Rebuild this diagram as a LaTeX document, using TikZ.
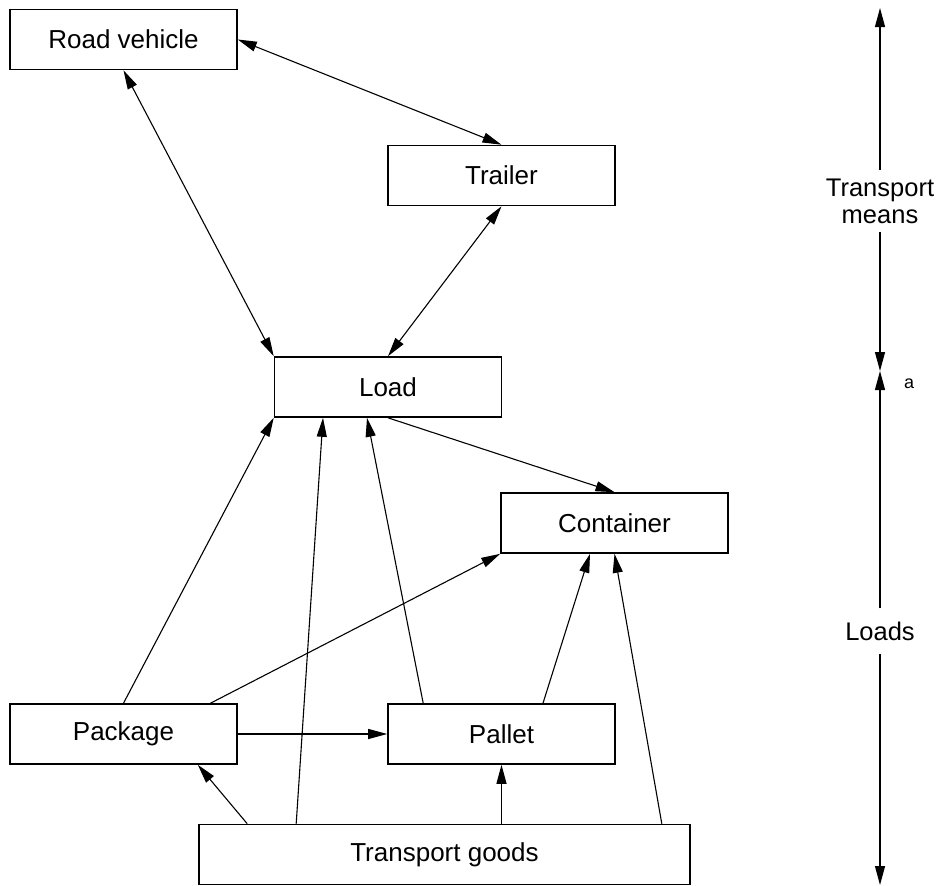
\documentclass[tikz,border=0pt]{standalone}
\usepackage{fontspec}
\setmainfont{Liberation Sans}
\usetikzlibrary{arrows.meta}
\begin{document}
\begin{tikzpicture}[x=1pt,y=-1pt,
  box/.style={draw,line width=1.6pt,minimum width=227pt,minimum height=60pt,
    inner sep=0pt,font=\fontsize{26}{30}\selectfont},
  link/.style={line width=1.1pt},
  tip/.style={-{Triangle[length=19pt,width=10pt]}},
  both/.style={{Triangle[length=19pt,width=10pt]}-{Triangle[length=19pt,width=10pt]}},
  side/.style={font=\fontsize{25.5}{27}\selectfont,align=center,inner sep=0pt}]
\useasboundingbox (0,0) rectangle (938,886);

% boxes
\node[box] (rv)   at (123.5,39.5) {Road vehicle};
\node[box] (tr)   at (501.5,175.5) {Trailer};
\node[box] (load) at (388,387) {Load};
\node[box] (cont) at (614.5,523) {Container};
\node[box] (pkg)  at (123.5,734) {Package};
\node[box] (pal)  at (501.5,734) {Pallet};
\node[box,minimum width=491pt] (tg) at (444.5,854.5) {Transport goods};

% connectors
\draw[link,both] (rv.east) -- (tr.north);
\draw[link,both] (rv.south) -- (load.north west);
\draw[link,both] (tr.south) -- (load.north);
\draw[link,tip] (load.south) -- (cont.north);
\draw[link,tip] (pkg.north) -- (load.south west);
\draw[link,tip] ([xshift=87pt]pkg.north) -- (cont.south west);
\draw[link,tip] (pkg.east) -- (pal.west);
\draw[link,tip] ([xshift=49pt]tg.north west) -- ([xshift=-40pt]pkg.south east);
\draw[link,tip] ([xshift=98pt]tg.north west) -- ([xshift=-65pt]load.south);
\draw[link,tip] ([xshift=36pt]pal.north west) -- ([xshift=-21pt]load.south);
\draw[link,tip] ([xshift=41.5pt]pal.north) -- ([xshift=-24.5pt]cont.south);
\draw[link,tip] ([xshift=-29pt]tg.north east) -- (cont.south);
\draw[link,tip] (pal.south |- tg.north) -- (pal.south);

% side scale
\coordinate (top) at (880,8);
\coordinate (mid) at (880,371);
\coordinate (bot) at (880,885);
\node[side,inner ysep=8pt] (means) at (880,201) {Transport\\means};
\node[side,inner ysep=13pt] (loads) at (880,631) {Loads};
\node[font=\fontsize{18}{20}\selectfont,inner sep=0pt] (a) at (909,384) {a};
\draw[link,tip] (means.north) -- (top);
\draw[link,tip] (means.south) -- (mid);
\draw[link,tip] (loads.north) -- (mid);
\draw[link,tip] (loads.south) -- (bot);
\end{tikzpicture}
\end{document}
